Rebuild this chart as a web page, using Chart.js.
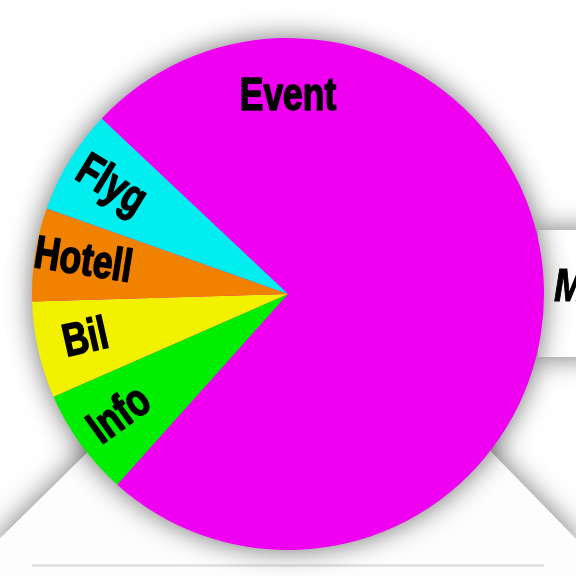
<!DOCTYPE html>
<html>
<head>
<meta charset="utf-8">
<script src="https://cdn.jsdelivr.net/npm/chart.js@4/dist/chart.umd.min.js"></script>
<style>
  html, body { margin: 0; padding: 0; background: #ffffff; }
  #wrap { position: relative; width: 576px; height: 576px; overflow: hidden; background: #fff; }
  .shadowbox { position: absolute; left: 0; top: 0; width: 576px; height: 576px; filter: drop-shadow(0 0 14px rgba(0,0,0,0.55)); }
  .trap { position: absolute; left: 0; top: 0; width: 576px; height: 576px; background: #fdfdfd;
          clip-path: polygon(110px 430px, 470px 430px, 585px 548px, 585px 600px, -10px 600px, -10px 548px); }
  .rpanel { position: absolute; left: 538px; top: 230px; width: 60px; height: 127px; background: #fff; }
  .rtext { position: absolute; left: 554px; top: 257px; font: italic bold 47px 'Liberation Sans', sans-serif; color: #000;
           transform: scaleX(0.8); transform-origin: left top; -webkit-text-stroke: 1px #000; }
  .hline { position: absolute; left: 32px; top: 564px; width: 512px; height: 3px; background: #e4e4e4; }
  canvas { position: absolute; left: 0; top: 0; }
</style>
</head>
<body>
<div id="wrap">
  <div class="shadowbox"><div class="trap"></div></div>
  <div class="shadowbox"><div class="rpanel"></div></div>
  <div class="rtext">M</div>
  <div class="hline"></div>
  <canvas id="c" width="576" height="576"></canvas>
</div>
<script>
const categories = ['Event', 'Info', 'Bil', 'Hotell', 'Flyg'];
const shares = [74.6, 6.8, 6.1, 5.9, 6.6];
const sliceColors = ['#f000f0', '#00ee00', '#f2f200', '#f08200', '#00eef0'];

const shadowPlugin = {
  id: 'pieShadow',
  beforeDatasetsDraw(chart) {
    const meta = chart.getDatasetMeta(0);
    if (!meta.data.length) return;
    const a = meta.data[0];
    const ctx = chart.ctx;
    ctx.save();
    ctx.shadowColor = 'rgba(0,0,0,0.6)';
    ctx.shadowBlur = 28;
    ctx.beginPath();
    ctx.arc(a.x, a.y, a.outerRadius - 1, 0, Math.PI * 2);
    ctx.fillStyle = sliceColors[0];
    ctx.fill();
    ctx.restore();
  }
};

const labelPlugin = {
  id: 'sliceLabels',
  afterDatasetsDraw(chart) {
    const meta = chart.getDatasetMeta(0);
    const ctx = chart.ctx;
    const data = chart.data.datasets[0].data;
    const maxIdx = data.indexOf(Math.max(...data));
    ctx.save();
    ctx.fillStyle = '#000';
    ctx.strokeStyle = '#000';
    ctx.lineWidth = 1.6;
    ctx.lineJoin = 'round';
    ctx.font = "bold 46px 'Liberation Sans', Arial, sans-serif";
    ctx.textAlign = 'center';
    ctx.textBaseline = 'middle';
    meta.data.forEach((arc, i) => {
      const R = arc.outerRadius;
      const label = chart.data.labels[i];
      ctx.save();
      if (i === maxIdx) {
        ctx.translate(arc.x, arc.y - 0.77 * R);
      } else {
        const mid = (arc.startAngle + arc.endAngle) / 2;
        ctx.translate(arc.x + Math.cos(mid) * 0.81 * R, arc.y + Math.sin(mid) * 0.81 * R);
        ctx.rotate(mid + Math.PI);
      }
      ctx.scale(0.77, 1);
      ctx.fillText(label, 0, 0);
      ctx.strokeText(label, 0, 0);
      ctx.restore();
    });
    ctx.restore();
  }
};

new Chart(document.getElementById('c'), {
  type: 'pie',
  data: {
    labels: categories,
    datasets: [{
      data: shares,
      backgroundColor: sliceColors,
      borderWidth: 0
    }]
  },
  options: {
    responsive: false,
    animation: false,
    rotation: -46.7,
    layout: { padding: { top: 38, bottom: 26, left: 32, right: 32 } },
    plugins: {
      legend: { display: false },
      tooltip: { enabled: false }
    }
  },
  plugins: [shadowPlugin, labelPlugin]
});
</script>
</body>
</html>
